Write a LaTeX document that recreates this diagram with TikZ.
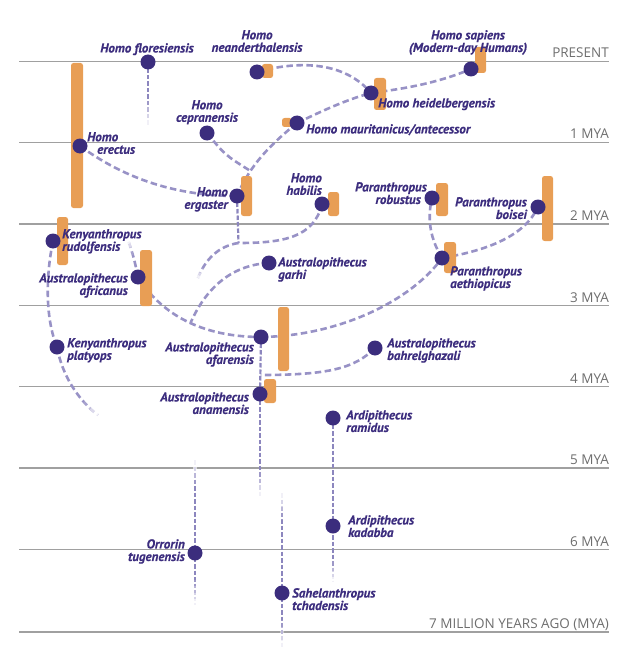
\documentclass[tikz,border=0pt]{standalone}
\usepackage{fontspec}
\newfontfamily\spfont[BoldItalicFeatures={FakeBold=0.4}]{PT Sans}
\newfontfamily\tkfont{Open Sans}
\usetikzlibrary{calc}
\definecolor{dotc}{RGB}{59,45,125}
\definecolor{txtc}{RGB}{60,45,126}
\definecolor{dashc}{RGB}{152,146,198}
\definecolor{vdashc}{RGB}{140,134,190}
\definecolor{barc}{RGB}{232,158,85}
\definecolor{gridc}{RGB}{160,160,160}
\definecolor{tickc}{RGB}{110,110,110}
\pgfdeclarelayer{bg}
\pgfsetlayers{bg,main}
\tikzset{
 spdot/.style={circle, fill=dotc, minimum size=15pt, inner sep=0pt},
 sp/.style={text=txtc, inner sep=0pt, font=\spfont\bfseries\itshape\fontsize{13}{12.5}\selectfont},
 conn/.style={draw=dashc, line width=2.6pt, dash pattern=on 6.5pt off 3.5pt},
 vconn/.style={draw=vdashc, line width=2.2pt, dash pattern=on 4.5pt off 2pt},
 orbar/.style={fill=barc, rounded corners=2.5pt},
 gridline/.style={draw=gridc, line width=1.1pt},
 ticklabel/.style={text=tickc, inner sep=0pt, anchor=base east, font=\tkfont\fontsize{13.5}{14}\selectfont}
}
\newcommand\fadeto[2]{%
  \foreach \fa/\fb/\fo in {0/0.25/0.15,0.25/0.5/0.4,0.5/0.75/0.65,0.75/1/0.88}{%
    \draw[white, line width=3.4pt, opacity=\fo] ($(#1)!\fa!(#2)$) -- ($(#1)!\fb!(#2)$);}}
\begin{document}
\begin{tikzpicture}[x=1pt,y=-1pt]
\useasboundingbox (0,0) rectangle (633,658);
% dots
\node[spdot] (flor) at (148,62) {};
\node[spdot] (nean) at (257,72) {};
\node[spdot] (sap) at (471,69) {};
\node[spdot] (heid) at (371,93) {};
\node[spdot] (maur) at (297,123) {};
\node[spdot] (cep) at (207,133) {};
\node[spdot] (erec) at (80,146) {};
\node[spdot] (erg) at (237,196) {};
\node[spdot] (hab) at (322,204) {};
\node[spdot] (rob) at (432,198) {};
\node[spdot] (boi) at (538,207) {};
\node[spdot] (rud) at (53,241) {};
\node[spdot] (afr) at (138,277) {};
\node[spdot] (gar) at (269,263) {};
\node[spdot] (aeth) at (442,258) {};
\node[spdot] (plat) at (57,347) {};
\node[spdot] (afar) at (261,337) {};
\node[spdot] (bahr) at (375,348) {};
\node[spdot] (anam) at (260,394) {};
\node[spdot] (ram) at (333,418) {};
\node[spdot] (kad) at (333,526) {};
\node[spdot] (orr) at (195,553) {};
\node[spdot] (sah) at (282,593) {};
% labels
\node[sp, anchor=north] (lflor) at (147,43) {Homo floresiensis};
\node[sp, anchor=north, align=center] (lnean) at (257,30) {Homo\\neanderthalensis};
\node[sp, anchor=north, align=center] (lsap) at (468,30) {Homo sapiens\\(Modern-day Humans)};
\node[sp, anchor=north west] (lheid) at (378,98) {Homo heidelbergensis};
\node[sp, anchor=north west] (lmaur) at (306,124) {Homo mauritanicus/antecessor};
\node[sp, anchor=north, align=center] (lcep) at (207,100) {Homo\\cepranensis};
\node[sp, anchor=north west, align=left] (lerec) at (87,132) {Homo\\\hspace*{10pt}erectus};
\node[sp, anchor=north east, align=right] (lerg) at (228,187) {Homo\\ergaster};
\node[sp, anchor=north east, align=right] (lhab) at (322,173) {Homo\\habilis};
\node[sp, anchor=north east, align=right] (lrob) at (427,182) {Paranthropus\\robustus\hspace*{6pt}};
\node[sp, anchor=north east, align=right] (lboi) at (527,197) {Paranthropus\\boisei};
\node[sp, anchor=north west, align=left] (lrud) at (62,229) {Kenyanthropus\\rudolfensis};
\node[sp, anchor=north east, align=right] (lafr) at (128,273) {Australopithecus\\africanus};
\node[sp, anchor=north west, align=left] (lgar) at (278,257) {Australopithecus\\garhi};
\node[sp, anchor=north west, align=left] (laeth) at (450,266) {Paranthropus\\aethiopicus};
\node[sp, anchor=north west, align=left] (lplat) at (67,338) {Kenyanthropus\\platyops};
\node[sp, anchor=north east, align=right] (lafar) at (254,342) {Australopithecus\\afarensis};
\node[sp, anchor=north west, align=left] (lbahr) at (387,338) {Australopithecus\\bahrelghazali};
\node[sp, anchor=north east, align=right] (lanam) at (249,392) {Australopithecus\\anamensis};
\node[sp, anchor=north west, align=left] (lram) at (346,410) {Ardipithecus\\ramidus};
\node[sp, anchor=north west, align=left] (lkad) at (348,515) {Ardipithecus\\kadabba};
\node[sp, anchor=north east, align=right] (lorr) at (185,539) {Orrorin\\tugenensis};
\node[sp, anchor=north west, align=left] (lsah) at (292,588) {Sahelanthropus\\tchadensis};
% free ends and junctions
\coordinate (florF) at (148,100); \coordinate (florE) at (148,127);
\coordinate (j1) at (250.5,171);
\coordinate (j2) at (238.5,243);
\coordinate (j2F) at (203,268); \coordinate (j2E) at (198,278);
\coordinate (j3) at (190.5,323);
\coordinate (afrF) at (132,255); \coordinate (afrE) at (128,240);
\coordinate (platF) at (84,402); \coordinate (platE) at (98,415);
\coordinate (j5) at (260.6,375);
\coordinate (anamF) at (260,470); \coordinate (anamE) at (260,497);
\coordinate (orrF1) at (195,485); \coordinate (orrE1) at (195,460);
\coordinate (orrF2) at (195,580); \coordinate (orrE2) at (195,605);
\coordinate (kadF) at (333,560); \coordinate (kadE) at (333,582);
\coordinate (sahF1) at (282,520); \coordinate (sahE1) at (282,493);
\coordinate (sahF2) at (282,620); \coordinate (sahE2) at (282,647);
\begin{pgfonlayer}{bg}
% time lines
\foreach \yy/\lab [count=\i] in {61.5/PRESENT, 142.5/1 MYA, 224/2 MYA, 305.5/3 MYA, 386.5/4 MYA, 468/5 MYA, 549.5/6 MYA, 632/{7 MILLION YEARS AGO (MYA)}}{
  \draw[gridline] (19,\yy) -- (609,\yy);
  \node[ticklabel] (tick\i) at (609,\yy-3.5) {\lab};
}
% connectors
\draw[vconn] (flor.center) -- (florE);
\draw[conn] (nean.center) .. controls (300,60) and (345,62) .. (heid.center);
\draw[conn] (heid.center) .. controls (410,88) and (440,82) .. (sap.center);
\draw[conn] (maur.center) .. controls (320,112) and (345,100) .. (heid.center);
\draw[conn] (maur.center) .. controls (270,145) and (250,165) .. (erg.center);
\draw[conn] (cep.center) .. controls (225,155) .. (j1);
\draw[conn] (erec.center) .. controls (120,175) and (170,196) .. (erg.center);
\draw[vconn] (erg.center) -- (j2);
\draw[conn] (hab.center) .. controls (314,238) and (282,243) .. (j2);
\draw[conn] (j2) .. controls (218,246) and (205,260) .. (j2E);
\draw[conn] (gar.center) .. controls (230,265) and (205,290) .. (j3);
\draw[conn] (afr.center) .. controls (165,320) and (210,337) .. (afar.center);
\draw[conn] (afr.center) .. controls (134,258) .. (afrE);
\draw[conn] (rud.center) .. controls (45,280) and (46,320) .. (plat.center);
\draw[conn] (plat.center) .. controls (62,375) and (78,400) .. (platE);
\draw[conn] (afar.center) .. controls (340,336) and (412,300) .. (aeth.center);
\draw[conn] (aeth.center) .. controls (428,235) and (428,215) .. (rob.center);
\draw[conn] (aeth.center) .. controls (490,250) and (525,235) .. (boi.center);
\draw[vconn] (afar.center) -- (anam.center);
\draw[vconn] (anam.center) -- (anamE);
\draw[conn] (bahr.center) .. controls (355,368) and (330,375) .. (j5);
\draw[vconn] (orrE1) -- (orr.center) -- (orrE2);
\draw[vconn] (ram.center) -- (kad.center) -- (kadE);
\draw[vconn] (sahE1) -- (sah.center) -- (sahE2);
% fading ends
\fadeto{florF}{florE}
\fadeto{j2F}{j2E}
\fadeto{afrF}{afrE}
\fadeto{platF}{platE}
\fadeto{anamF}{anamE}
\fadeto{orrF1}{orrE1}
\fadeto{orrF2}{orrE2}
\fadeto{kadF}{kadE}
\fadeto{sahF1}{sahE1}
\fadeto{sahF2}{sahE2}
% time-range bars
\path[orbar] (262,64) rectangle (273,78);
\path[orbar] (475,47) rectangle (486,73);
\path[orbar] (374,78) rectangle (386,110);
\path[orbar] (282,118) rectangle (292,127);
\path[orbar] (71,63) rectangle (83,208);
\path[orbar] (241,176) rectangle (252,216);
\path[orbar] (328,192) rectangle (339,216);
\path[orbar] (436,183) rectangle (448,216);
\path[orbar] (542,176) rectangle (553,241);
\path[orbar] (57,217) rectangle (68,265);
\path[orbar] (140,250) rectangle (152,306);
\path[orbar] (444,242) rectangle (456,273);
\path[orbar] (278,307) rectangle (289,371);
\path[orbar] (264,379) rectangle (276,403);
\end{pgfonlayer}
\end{tikzpicture}
\end{document}
